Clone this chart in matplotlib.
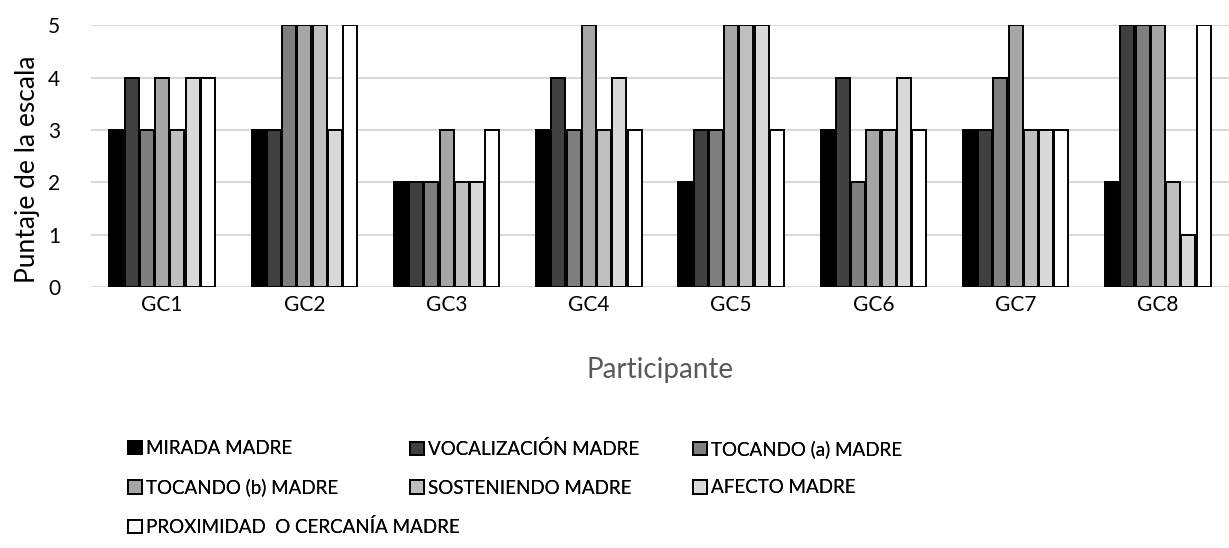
import numpy as np
import matplotlib
matplotlib.use("Agg")
import matplotlib.pyplot as plt

plt.rcParams['font.family'] = ['Lato', 'DejaVu Sans']

participantes = ["GC1", "GC2", "GC3", "GC4", "GC5", "GC6", "GC7", "GC8"]
series = ["MIRADA MADRE", "VOCALIZACIÓN MADRE", "TOCANDO (a) MADRE",
          "TOCANDO (b) MADRE", "SOSTENIENDO MADRE", "AFECTO MADRE",
          "PROXIMIDAD  O CERCANÍA MADRE"]

mirada = [3, 3, 2, 3, 2, 3, 3, 2]
vocalizacion = [4, 3, 2, 4, 3, 4, 3, 5]
tocando_a = [3, 5, 2, 3, 3, 2, 4, 5]
tocando_b = [4, 5, 3, 5, 5, 3, 5, 5]
sosteniendo = [3, 5, 2, 3, 5, 3, 3, 2]
afecto = [4, 3, 2, 4, 5, 4, 3, 1]
proximidad = [4, 5, 3, 3, 3, 3, 3, 5]

valores = [mirada, vocalizacion, tocando_a, tocando_b, sosteniendo, afecto, proximidad]
colores = ["#000000", "#404040", "#7f7f7f", "#a6a6a6", "#bfbfbf", "#d9d9d9", "#ffffff"]

fig = plt.figure(figsize=(12.29, 5.48), dpi=100)
ax = fig.add_axes([0.074, 0.476, 0.926, 0.478])

x = np.arange(len(participantes))
w = 0.107
handles = []
for i, (vals, c) in enumerate(zip(valores, colores)):
    b = ax.bar(x + (i - 3) * w, vals, width=w * 0.92, color=c,
               edgecolor="black", linewidth=1.4, label=series[i], zorder=3)
    handles.append(b)

ax.set_xlim(-0.5, len(participantes) - 0.5)
ax.set_ylim(0, 5)
ax.set_yticks(range(6))
ax.yaxis.grid(True, color="#d9d9d9", linewidth=1.5, zorder=0)
ax.set_axisbelow(True)
for s in ax.spines.values():
    s.set_visible(False)
ax.tick_params(length=0, labelsize=15, pad=6)
ax.tick_params(axis='y', pad=22)
ax.set_xticks(x)
ax.set_xticklabels(participantes)
ax.set_ylabel("Puntaje de la escala", fontsize=19)
ax.yaxis.set_label_coords(-0.045, 0.45)
ax.set_xlabel("Participante", fontsize=20, color="#595959", labelpad=30)

# legend: three columns placed like the original (Excel style)
columnas = [[0, 3, 6], [1, 4], [2, 5]]
xs = [128, 410, 693]
for col, xp in zip(columnas, xs):
    leg = fig.legend([handles[i] for i in col], [series[i] for i in col],
                     loc="upper left", bbox_to_anchor=(xp / 1229, 1 - 440 / 548),
                     frameon=False, fontsize=13.5, handlelength=0.75, handleheight=0.75,
                     handletextpad=0.2, labelspacing=1.15, borderaxespad=0,
                     borderpad=0)
    fig.add_artist(leg)

fig.savefig("out.png", dpi=100)
